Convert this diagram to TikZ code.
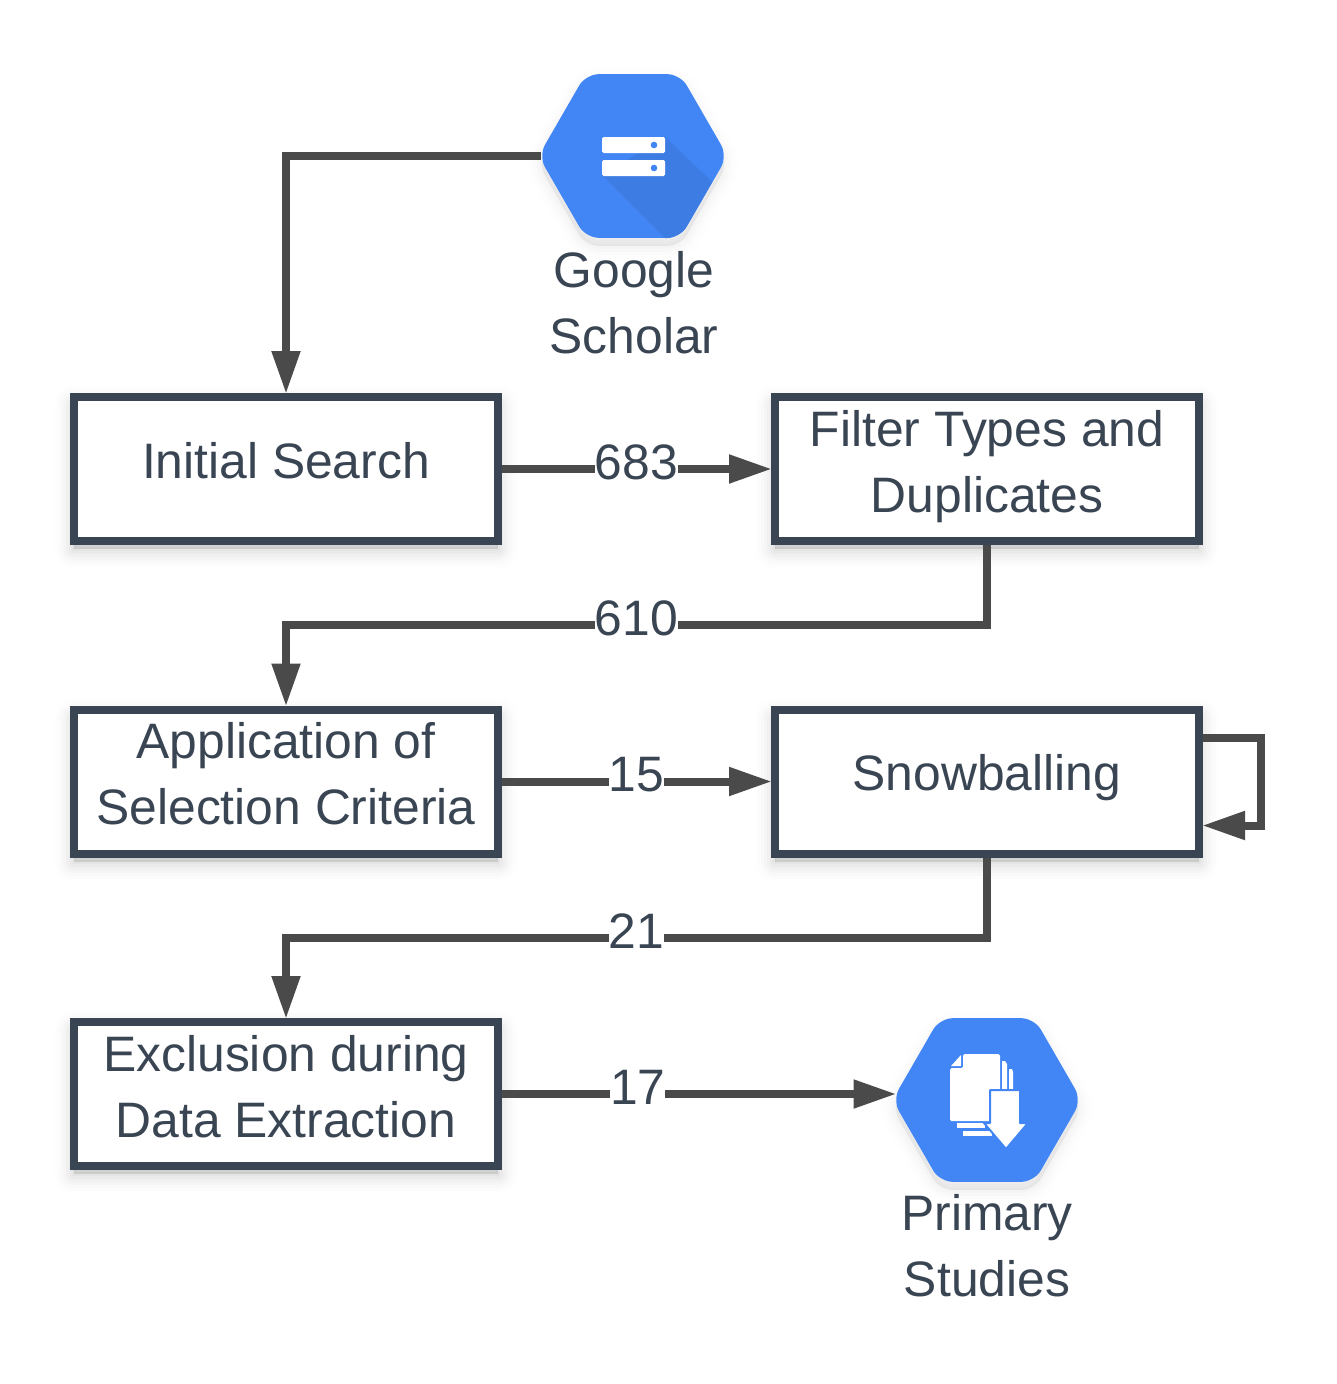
\documentclass[tikz,border=0pt]{standalone}
\usepackage{fontspec}
\setmainfont{Liberation Sans}
\usepackage{tikz}
\usetikzlibrary{shapes.geometric, arrows.meta, positioning, shadows}
\definecolor{boxline}{HTML}{3A4553}
\definecolor{arrowline}{HTML}{4A4A4A}
\definecolor{hexblue}{HTML}{4286F5}
\definecolor{hexdark}{HTML}{3D7CE3}

\begin{document}
\begin{tikzpicture}[
        x=1pt, y=-1pt,
        softlayer/.style 2 args={general shadow={shadow xshift=0pt, shadow yshift=-8pt, draw=black, fill=black, line join=round, line width=#1, opacity=#2}},
        boxshadow/.style={softlayer={40pt}{.004}, softlayer={34pt}{.007}, softlayer={28pt}{.012}, softlayer={22pt}{.016}, softlayer={16pt}{.02}, softlayer={10pt}{.023}, softlayer={4pt}{.027}},
        hexshadow/.style={softlayer={30pt}{.003}, softlayer={24pt}{.005}, softlayer={18pt}{.007}, softlayer={12pt}{.01}, softlayer={6pt}{.012}, softlayer={1pt}{.014}},
        labeltext/.style={font=\fontsize{49.8}{66}\selectfont, text=boxline, align=center, text height=38pt, text depth=18pt, inner sep=0pt},
        twolines/.style={text height=104pt},
        flowbox/.style={labeltext, text height=36pt, boxshadow, draw=boxline, fill=white, line width=8pt, rectangle, minimum width=424pt, minimum height=144pt},
        hexa/.style={hexshadow, regular polygon, regular polygon sides=6, minimum size=189pt, inner sep=0pt, outer sep=0pt, fill=hexblue, rounded corners=13pt},
        countlabel/.style={labeltext, fill=white},
        arrow/.style={line width=8pt, draw=arrowline, shorten >=-1pt, -{Triangle[length=43pt, width=27pt]}}
    ]
        \useasboundingbox (0,0) rectangle (1337,1384);

        \node[hexa] (scholar) at (633,156) {};
        \node[labeltext, twolines, below=11.5pt of scholar, xshift=1pt] (scholarname) {Google\\Scholar};

        \node[flowbox] (initial) at (286,469) {Initial Search};
        \node[flowbox, twolines, right=269pt of initial] (filter) {Filter Types and\\Duplicates};
        \node[flowbox, twolines, below=160.5pt of initial] (criteria) {Application of\\Selection Criteria};
        \node[flowbox, right=269pt of criteria] (snow) {Snowballing};
        \node[flowbox, twolines, below=160.5pt of criteria] (exclusion) {Exclusion during\\Data Extraction};

        \node[hexa] (primary) at (987,1100) {};
        \node[labeltext, twolines, below=10pt of primary] (primaryname) {Primary\\Studies};

        \fill[hexdark] (665,137) -- (712.3,182) [rounded corners=13pt] -- (680,238) [sharp corners] -- (665,238) -- (602,175) -- cycle;
        \fill[white, rounded corners=1.5pt] (602,137) rectangle (665,153);
        \fill[white, rounded corners=1.5pt] (602,160) rectangle (665,176);
        \fill[hexblue] (654,145) circle (3.3);
        \fill[hexblue] (654,168) circle (3.3);

        \fill[white] (1002,1061) -- (1005,1061) -- (1007,1064) -- (1007,1090) -- (1002,1090) -- cycle;
        \fill[white] (1009,1069) -- (1012,1069) -- (1013,1072) -- (1013,1090) -- (1009,1090) -- cycle;
        \fill[white] (957,1123) rectangle (985,1128);
        \fill[white] (963,1131) rectangle (992,1136);
        \fill[white, rounded corners=1.5pt] (963,1054) -- (1000,1054) -- (1000,1121) -- (950,1121) -- (950,1068) -- (963,1068) -- cycle;
        \fill[white] (961,1055) -- (961,1066) -- (951,1066) -- cycle;
        \draw[hexblue, line width=2pt, fill=white, line join=round] (990,1123) -- (990,1090) -- (1020,1090) -- (1020,1123) -- (1028,1123) -- (1006,1149) -- (984,1123) -- cycle;

        \draw[arrow] ([xshift=2pt]scholar.west) -| (initial.north);
        \draw[arrow] (initial.east) -- node[countlabel] (n683) {683} (filter.west);
        \draw[arrow] (filter.south) -- ++(0,80) -| node[countlabel, pos=.25] (n610) {610} (criteria.north);
        \draw[arrow] (criteria.east) -- node[countlabel] (n15) {15} (snow.west);
        \draw[arrow] ([yshift=44pt]snow.east) -- ++(58,0) |- ([yshift=-44pt]snow.east);
        \draw[arrow] (snow.south) -- ++(0,80.5) -| node[countlabel, pos=.25] (n21) {21} (exclusion.north);
        \draw[arrow] (exclusion.east) -- node[countlabel, pos=.345] (n17) {17} ([xshift=3pt]exclusion.east -| primary.west);
    \end{tikzpicture}
\end{document}
